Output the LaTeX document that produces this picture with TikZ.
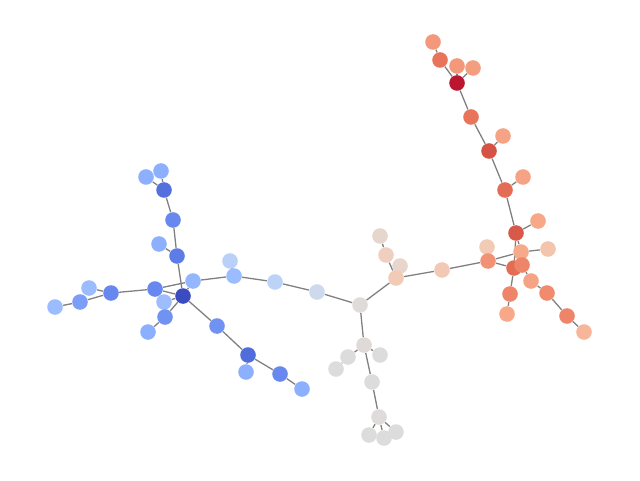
\documentclass[tikz,border=0pt]{standalone}
\pgfdeclarelayer{bg}
\pgfsetlayers{bg,main}
\tikzset{
  nd/.style={circle,inner sep=0pt,minimum size=7.8pt,draw=none},
  ed/.style={draw=edgegray,line width=0.65pt}
}
\definecolor{edgegray}{HTML}{808080}
\begin{document}
\begin{tikzpicture}[x=0.5pt,y=-0.5pt]
\useasboundingbox (0,0) rectangle (640,480);
% blue cluster
\node[nd,fill={rgb,255:red,141;green,176;blue,254}] (A1) at (146,177) {};
\node[nd,fill={rgb,255:red,141;green,176;blue,254}] (A2) at (161,171) {};
\node[nd,fill={rgb,255:red,84;green,112;blue,222}] (A3) at (164,190) {};
\node[nd,fill={rgb,255:red,103;green,136;blue,238}] (A4) at (173,220) {};
\node[nd,fill={rgb,255:red,141;green,176;blue,254}] (A5) at (159,244) {};
\node[nd,fill={rgb,255:red,93;green,124;blue,230}] (A6) at (177,256) {};
\node[nd,fill={rgb,255:red,185;green,208;blue,249}] (A7) at (230,261) {};
\node[nd,fill={rgb,255:red,155;green,188;blue,255}] (A8) at (234,276) {};
\node[nd,fill={rgb,255:red,148;green,182;blue,255}] (A9) at (193,281) {};
\node[nd,fill={rgb,255:red,103;green,136;blue,238}] (A11) at (155,289) {};
\node[nd,fill={rgb,255:red,103;green,136;blue,238}] (A12) at (111,293) {};
\node[nd,fill={rgb,255:red,155;green,188;blue,255}] (A13) at (89,288) {};
\node[nd,fill={rgb,255:red,123;green,159;blue,249}] (A14) at (80,302) {};
\node[nd,fill={rgb,255:red,155;green,188;blue,255}] (A15) at (55,307) {};
\node[nd,fill={rgb,255:red,157;green,189;blue,255}] (A16) at (164,302) {};
\node[nd,fill={rgb,255:red,111;green,146;blue,243}] (A17) at (165,317) {};
\node[nd,fill={rgb,255:red,141;green,176;blue,254}] (A18) at (148,332) {};
\node[nd,fill={rgb,255:red,59;green,76;blue,192}] (A10) at (183,296) {};
\node[nd,fill={rgb,255:red,111;green,146;blue,243}] (A19) at (217,326) {};
\node[nd,fill={rgb,255:red,81;green,109;blue,219}] (C1) at (248,355) {};
\node[nd,fill={rgb,255:red,141;green,176;blue,254}] (C2) at (246,372) {};
\node[nd,fill={rgb,255:red,103;green,136;blue,238}] (C3) at (280,374) {};
\node[nd,fill={rgb,255:red,141;green,176;blue,254}] (C4) at (302,389) {};
\node[nd,fill={rgb,255:red,188;green,210;blue,247}] (B1) at (275,282) {};
\node[nd,fill={rgb,255:red,205;green,217;blue,236}] (B2) at (317,292) {};
% gray cluster
\node[nd,fill={rgb,255:red,223;green,219;blue,217}] (G0) at (360,305) {};
\node[nd,fill={rgb,255:red,223;green,218;blue,215}] (G1) at (364,345) {};
\node[nd,fill={rgb,255:red,221;green,220;blue,220}] (G2) at (348,357) {};
\node[nd,fill={rgb,255:red,221;green,220;blue,220}] (G3) at (336,369) {};
\node[nd,fill={rgb,255:red,221;green,220;blue,220}] (G4) at (380,355) {};
\node[nd,fill={rgb,255:red,221;green,220;blue,220}] (G5) at (372,382) {};
\node[nd,fill={rgb,255:red,222;green,219;blue,218}] (G6) at (379,417) {};
\node[nd,fill={rgb,255:red,221;green,220;blue,220}] (G7) at (369,435) {};
\node[nd,fill={rgb,255:red,221;green,220;blue,220}] (G8) at (384,438) {};
\node[nd,fill={rgb,255:red,221;green,220;blue,220}] (G9) at (396,432) {};
% orange / red cluster
\node[nd,fill={rgb,255:red,230;green,214;blue,206}] (O4) at (380,236) {};
\node[nd,fill={rgb,255:red,239;green,207;blue,191}] (O2) at (386,255) {};
\node[nd,fill={rgb,255:red,232;green,214;blue,204}] (O3) at (400,266) {};
\node[nd,fill={rgb,255:red,242;green,203;blue,183}] (O1) at (396,278) {};
\node[nd,fill={rgb,255:red,242;green,201;blue,180}] (O5) at (442,270) {};
\node[nd,fill={rgb,255:red,242;green,203;blue,183}] (P1) at (487,247) {};
\node[nd,fill={rgb,255:red,242;green,146;blue,116}] (P4) at (488,261) {};
\node[nd,fill={rgb,255:red,244;green,197;blue,173}] (P2) at (548,249) {};
\node[nd,fill={rgb,255:red,246;green,170;blue,138}] (P3) at (521,252) {};
\node[nd,fill={rgb,255:red,227;green,108;blue,85}] (P5) at (514,268) {};
\node[nd,fill={rgb,255:red,238;green,132;blue,104}] (P6) at (522,265) {};
\node[nd,fill={rgb,255:red,246;green,163;blue,133}] (P7) at (531,281) {};
\node[nd,fill={rgb,255:red,240;green,139;blue,110}] (P8) at (547,293) {};
\node[nd,fill={rgb,255:red,238;green,132;blue,104}] (P9) at (567,316) {};
\node[nd,fill={rgb,255:red,247;green,181;blue,153}] (P10) at (584,332) {};
\node[nd,fill={rgb,255:red,238;green,132;blue,104}] (P11) at (510,294) {};
\node[nd,fill={rgb,255:red,247;green,168;blue,137}] (P12) at (507,314) {};
\node[nd,fill={rgb,255:red,216;green,88;blue,74}] (R12) at (516,233) {};
\node[nd,fill={rgb,255:red,247;green,168;blue,137}] (R11) at (538,221) {};
\node[nd,fill={rgb,255:red,227;green,108;blue,85}] (R10) at (505,190) {};
\node[nd,fill={rgb,255:red,246;green,163;blue,133}] (R9) at (523,177) {};
\node[nd,fill={rgb,255:red,214;green,82;blue,68}] (R8) at (489,151) {};
\node[nd,fill={rgb,255:red,246;green,163;blue,133}] (R7) at (503,136) {};
\node[nd,fill={rgb,255:red,231;green,116;blue,91}] (R6) at (471,117) {};
\node[nd,fill={rgb,255:red,187;green,21;blue,48}] (R5) at (457,83) {};
\node[nd,fill={rgb,255:red,243;green,152;blue,122}] (R3) at (457,66) {};
\node[nd,fill={rgb,255:red,244;green,158;blue,128}] (R4) at (473,68) {};
\node[nd,fill={rgb,255:red,231;green,116;blue,91}] (R2) at (440,60) {};
\node[nd,fill={rgb,255:red,243;green,152;blue,122}] (R1) at (433,42) {};
\begin{pgfonlayer}{bg}
\foreach \a/\b in {A1/A3,A2/A3,A3/A4,A4/A6,A5/A6,A6/A10,A10/A11,A11/A12,A12/A13,A12/A14,A14/A15,A10/A16,A10/A17,A17/A18,A10/A19,A19/C1,C1/C2,C1/C3,C3/C4,A10/A9,A11/A9,A9/A8,A7/A8,A8/B1,B1/B2,B2/G0,
G0/O1,G0/G1,G1/G2,G2/G3,G1/G4,G1/G5,G5/G6,G6/G7,G6/G8,G6/G9,
O4/O2,O2/O1,O3/O1,O1/O5,O5/P4,P4/P1,P4/P3,P4/P5,P3/P2,R12/P3,R12/P5,R12/R11,R12/R10,R10/R9,R10/R8,R8/R7,R8/R6,R6/R5,R5/R3,R5/R4,R5/R2,R2/R1,P5/P6,P6/P7,P7/P8,P8/P9,P9/P10,P5/P11,P11/P12}
  \draw[ed] (\a) -- (\b);
\end{pgfonlayer}
\end{tikzpicture}
\end{document}
